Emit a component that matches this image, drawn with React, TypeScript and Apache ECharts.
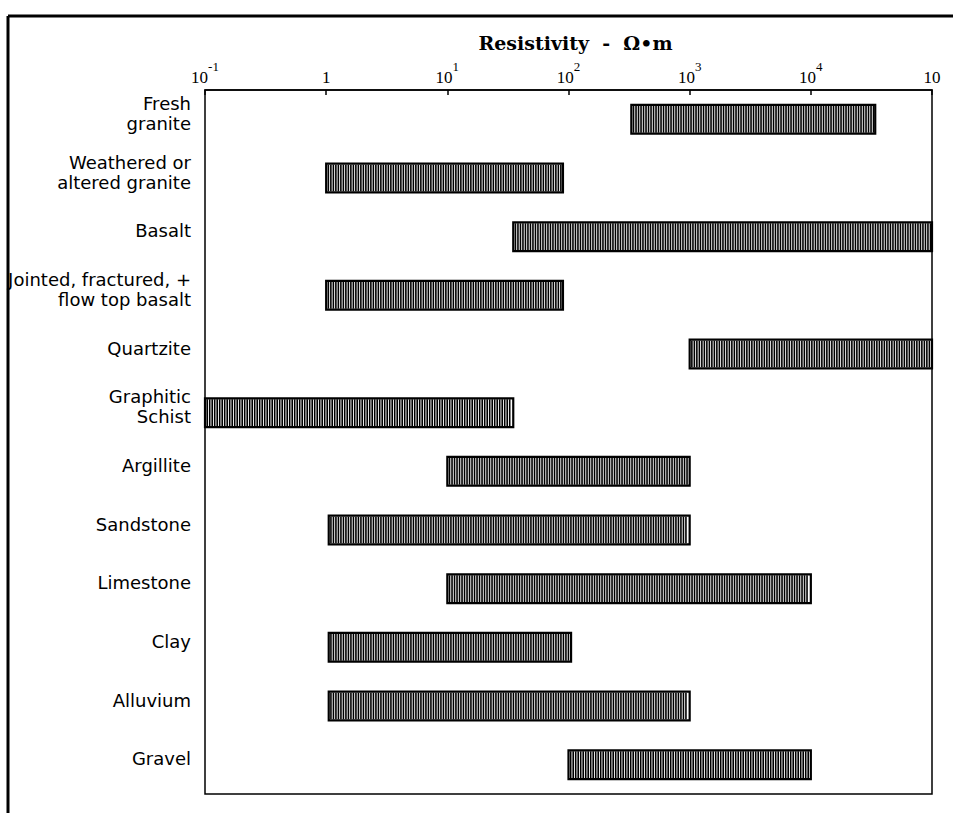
import React, { useEffect, useRef } from "react";
import * as echarts from "echarts";

const categories = [
  "Fresh\ngranite",
  "Weathered or\naltered granite",
  "Basalt",
  "Jointed, fractured, +\nflow top basalt",
  "Quartzite",
  "Graphitic\nSchist",
  "Argillite",
  "Sandstone",
  "Limestone",
  "Clay",
  "Alluvium",
  "Gravel",
];
const rangeLow = [330, 1, 35, 1, 1000, 0.1, 10, 1.05, 10, 1.05, 1.05, 100];
const rangeHigh = [34000, 90, 100000, 90, 100000, 35, 1000, 1000, 10000, 105, 1000, 10000];
const tickBase = ["10", "1", "10", "10", "10", "10", "10"];
const tickExp = ["-1", "", "1", "2", "3", "4", ""];
const axisTitle = "Resistivity  -  \u03a9\u2022m";

export default function App() {
  const ref = useRef<HTMLDivElement>(null);
  useEffect(() => {
    if (!ref.current) return;
    const chart = echarts.init(ref.current, null, { renderer: "svg" });
    const data = categories.map((_, i) => [rangeLow[i], rangeHigh[i], i]);
    chart.setOption({
      animation: false,
      backgroundColor: "#fff",
      grid: { left: 205, right: 21, top: 90, bottom: 19, show: true, borderColor: "#000", borderWidth: 1.5 },
      xAxis: {
        type: "log",
        logBase: 10,
        min: 0.1,
        max: 100000,
        position: "top",
        splitNumber: 6,
        name: axisTitle,
        nameLocation: "middle",
        nameGap: 38,
        nameTextStyle: {
          fontFamily: "DejaVu Serif",
          fontWeight: "bold",
          fontSize: 19,
          color: "#000",
          padding: [0, 0, 0, 14],
        },
        axisLine: { show: true, lineStyle: { color: "#000", width: 1.5 } },
        axisTick: { show: true, inside: true, length: 5, lineStyle: { color: "#000", width: 1.5 } },
        splitLine: { show: false },
        axisLabel: {
          margin: 4,
          formatter: (v: number) => {
            const i = Math.round(Math.log10(v)) + 1;
            if (i < 0 || i >= tickBase.length) return "";
            return tickExp[i] ? `{b|${tickBase[i]}}{s|${tickExp[i]}}` : `{b|${tickBase[i]}}`;
          },
          rich: {
            b: { fontFamily: "Liberation Serif", fontSize: 17, color: "#000", lineHeight: 26, verticalAlign: "bottom" },
            s: { fontFamily: "Liberation Serif", fontSize: 13, color: "#000", lineHeight: 26, verticalAlign: "top" },
          },
        },
      },
      yAxis: {
        type: "category",
        inverse: true,
        data: categories,
        axisLine: { show: false },
        axisTick: { show: false },
        splitLine: { show: false },
        axisLabel: {
          margin: 14,
          formatter: (v: string) =>
            v
              .split("\n")
              .map((l) => `{a|${l}}`)
              .join("\n") + "\n{sp| }",
          rich: {
            a: { fontFamily: "DejaVu Sans", fontSize: 18, lineHeight: 20, color: "#000" },
            sp: { fontSize: 2, lineHeight: 12, color: "#fff" },
          },
        },
      },
      series: [
        {
          type: "custom",
          encode: { x: [0, 1], y: 2 },
          data,
          renderItem: (params: any, api: any) => {
            const lo = api.value(0);
            const hi = api.value(1);
            const cat = api.value(2);
            const p0 = api.coord([lo, cat]);
            const p1 = api.coord([hi, cat]);
            const band = api.size([1, 1])[1];
            const h = band * 0.49;
            const x0 = p0[0];
            const x1 = p1[0];
            const y0 = p0[1] - h / 2;
            const children: any[] = [
              { type: "rect", shape: { x: x0, y: y0, width: x1 - x0, height: h }, style: { fill: "#fff", stroke: null } },
            ];
            for (let x = x0 + 2.2; x < x1 - 1.5; x += 2.5) {
              children.push({
                type: "line",
                shape: { x1: x, y1: y0 + 1, x2: x, y2: y0 + h - 1 },
                style: { stroke: "#000", lineWidth: 1.6 },
              });
            }
            children.push({
              type: "rect",
              shape: { x: x0, y: y0, width: x1 - x0, height: h },
              style: { fill: null, stroke: "#000", lineWidth: 2.2 },
            });
            return { type: "group", children };
          },
        },
      ],
      graphic: [
        { type: "line", shape: { x1: 8, y1: 16, x2: 953, y2: 16 }, style: { stroke: "#000", lineWidth: 3 } },
        { type: "line", shape: { x1: 8, y1: 16, x2: 8, y2: 813 }, style: { stroke: "#000", lineWidth: 3 } },
      ],
    });
    return () => chart.dispose();
  }, []);
  return <div ref={ref} style={{ position: "absolute", left: 0, top: 0, width: 953, height: 813 }} />;
}
